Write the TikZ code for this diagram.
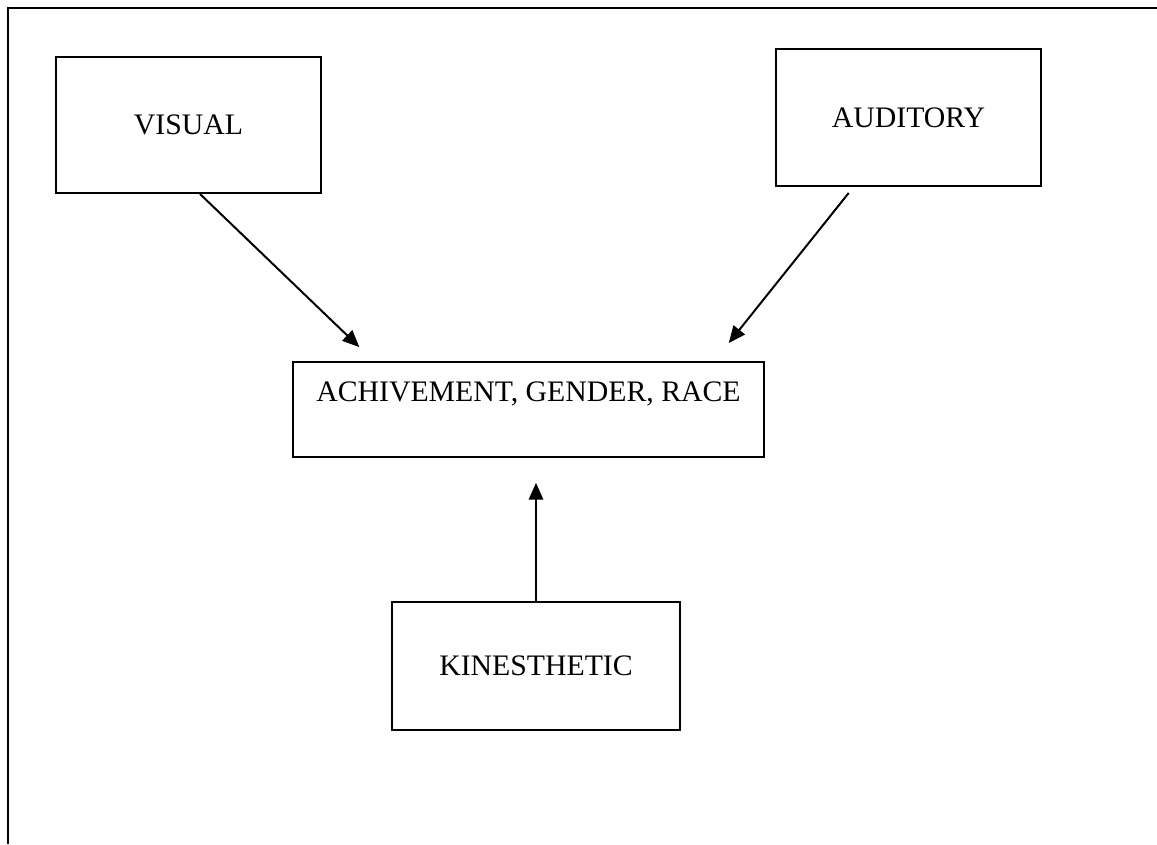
\documentclass[tikz,border=0pt]{standalone}
\usepackage{fontspec}
\setmainfont{Liberation Serif}
\usetikzlibrary{arrows.meta}
\usetikzlibrary{calc}

\begin{document}
\begin{tikzpicture}[x=0.4032pt,y=-0.4032pt,
                box/.style={draw,line width=0.8pt,inner sep=0pt,font=\fontsize{12}{14}\selectfont},
                arr/.style={line width=0.8pt,-{Triangle[length=6.8pt,width=5.8pt]}}]
                \useasboundingbox (0,0) rectangle (1157,844);
                \draw[line width=0.8pt] (8,844) -- (8,8) -- (1157,8);
                \node[box,minimum width=106.8pt,minimum height=54.8pt] (vis) at (188.5,125) {VISUAL};
                \node[box,minimum width=106.8pt,minimum height=55.2pt] (aud) at (908.5,117.5) {AUDITORY};
                \node[box,minimum width=189.9pt,text height=16.1pt,text depth=22.2pt] (ach) at (528.5,409.5) {ACHIVEMENT, GENDER, RACE};
                \node[box,minimum width=116.5pt,minimum height=51.6pt] (kin) at (536,666) {KINESTHETIC};
                \draw[arr,shorten >=8.1pt] ($(vis.south west)!0.543!(vis.south east)$) -- ($(ach.north west)!0.173!(ach.north east)$);
                \draw[arr,shorten <=3.1pt,shorten >=9.3pt] ($(aud.south west)!0.294!(aud.south east)$) -- ($(ach.north west)!0.893!(ach.north east)$);
                \draw[arr,shorten >=10pt] (kin.north) -- (kin.north |- ach.south);
            \end{tikzpicture}
\end{document}
